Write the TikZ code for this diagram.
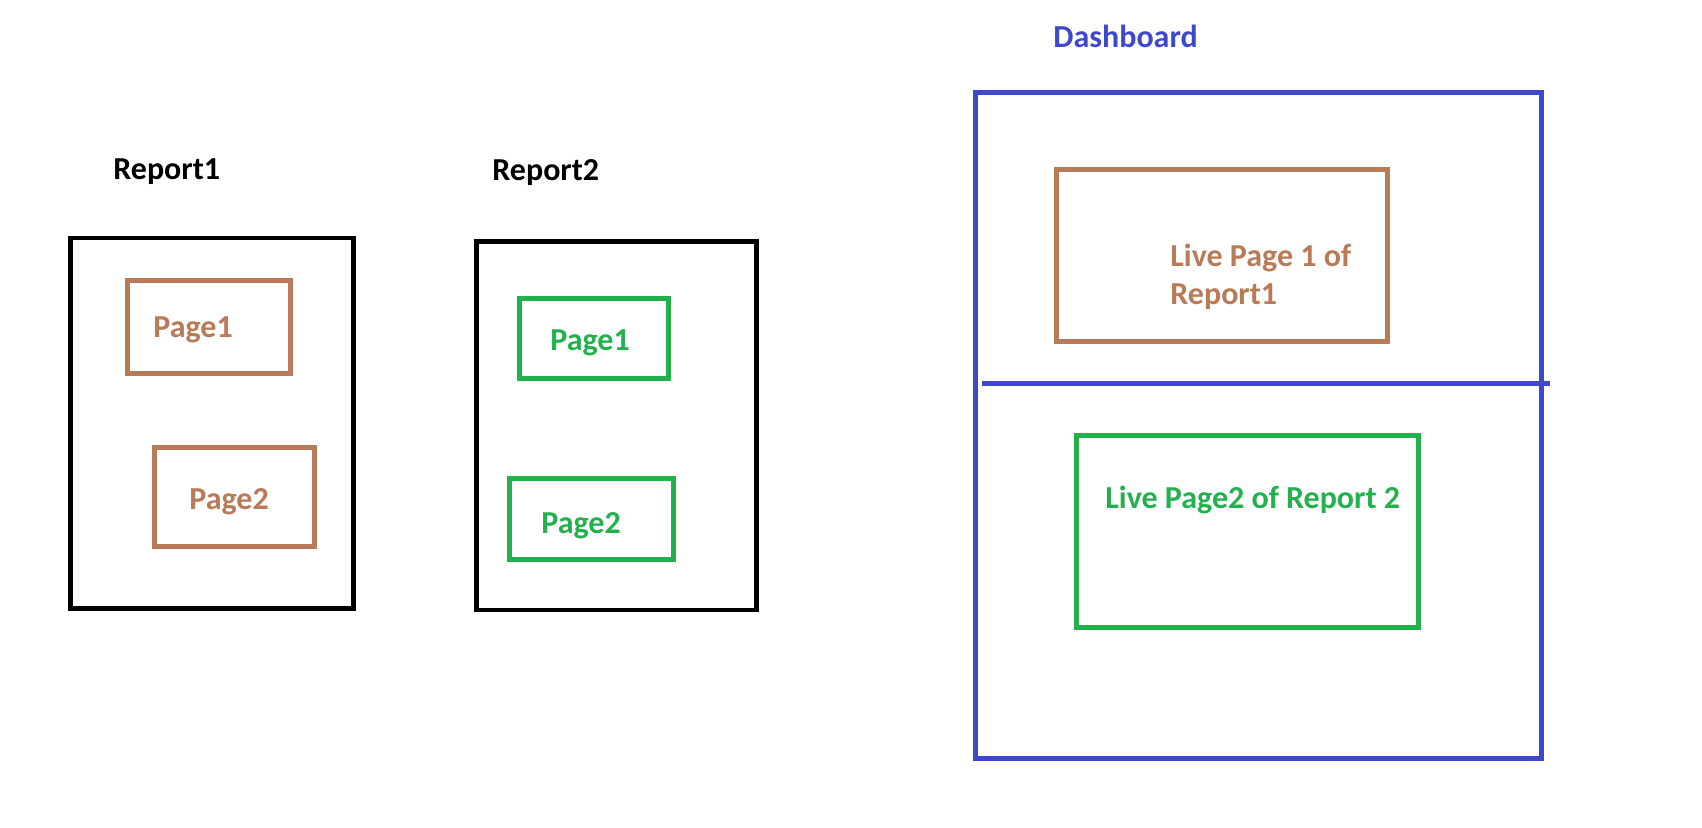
\documentclass[tikz,border=0pt]{standalone}
\usepackage{fontspec}
\setmainfont{Carlito}
\definecolor{pbrown}{RGB}{185,122,87}
\definecolor{pgreen}{RGB}{34,177,76}
\definecolor{pblue}{RGB}{63,72,204}
\begin{document}
\begin{tikzpicture}[x=0.5pt,y=-0.5pt,
  box/.style={draw, rectangle, inner sep=0pt, line width=2.5pt},
  reportbox/.style={box, draw=black, line width=2.25pt},
  brownbox/.style={box, draw=pbrown},
  greenbox/.style={box, draw=pgreen},
  bluebox/.style={box, draw=pblue},
  lbl/.style={anchor=base west, inner sep=0pt, font=\fontsize{16}{19}\selectfont\bfseries},
]
\useasboundingbox (0,0) rectangle (1702,827);
% Report 1
\node[reportbox, minimum width=283*0.5pt, minimum height=370.5*0.5pt] (r1) at (212,423.25) {};
\node[brownbox, minimum width=163*0.5pt, minimum height=93*0.5pt] (r1p1) at (209,327) {};
\node[brownbox, minimum width=160*0.5pt, minimum height=99*0.5pt] (r1p2) at (234.5,497) {};
\node[lbl] (r1t) at (113,179) {Report1};
\node[lbl, text=pbrown] (r1p1t) at (153,337) {Page1};
\node[lbl, text=pbrown] (r1p2t) at (189,509) {Page2};
% Report 2
\node[reportbox, minimum width=280*0.5pt, minimum height=368.5*0.5pt] (r2) at (616.5,425.75) {};
\node[greenbox, minimum width=149*0.5pt, minimum height=79.5*0.5pt] (r2p1) at (594,338.25) {};
\node[greenbox, minimum width=164*0.5pt, minimum height=80.5*0.5pt] (r2p2) at (591.5,518.75) {};
\node[lbl] (r2t) at (492,180) {Report2};
\node[lbl, text=pgreen] (r2p1t) at (550,350) {Page1};
\node[lbl, text=pgreen] (r2p2t) at (541,533) {Page2};
% Dashboard
\node[bluebox, minimum width=565.5*0.5pt, minimum height=665.5*0.5pt] (db) at (1258.25,425.25) {};
\node[lbl, text=pblue] (dbt) at (1053,47) {Dashboard};
\node[brownbox, minimum width=331*0.5pt, minimum height=172*0.5pt] (live1) at (1222,255.5) {};
\node[greenbox, minimum width=342*0.5pt, minimum height=192*0.5pt] (live2) at (1247.5,531.5) {};
\node[lbl, text=pbrown, align=left] (live1t) at (1170,304) {Live Page 1 of\\Report1};
\node[lbl, text=pgreen] (live2t) at (1105,508) {Live Page2 of Report 2};
\coordinate (divL) at (982,383.5);
\coordinate (divR) at (1550,383.5);
\draw[draw=pblue, line width=2.5pt] (divL) -- (divR);
\end{tikzpicture}
\end{document}
